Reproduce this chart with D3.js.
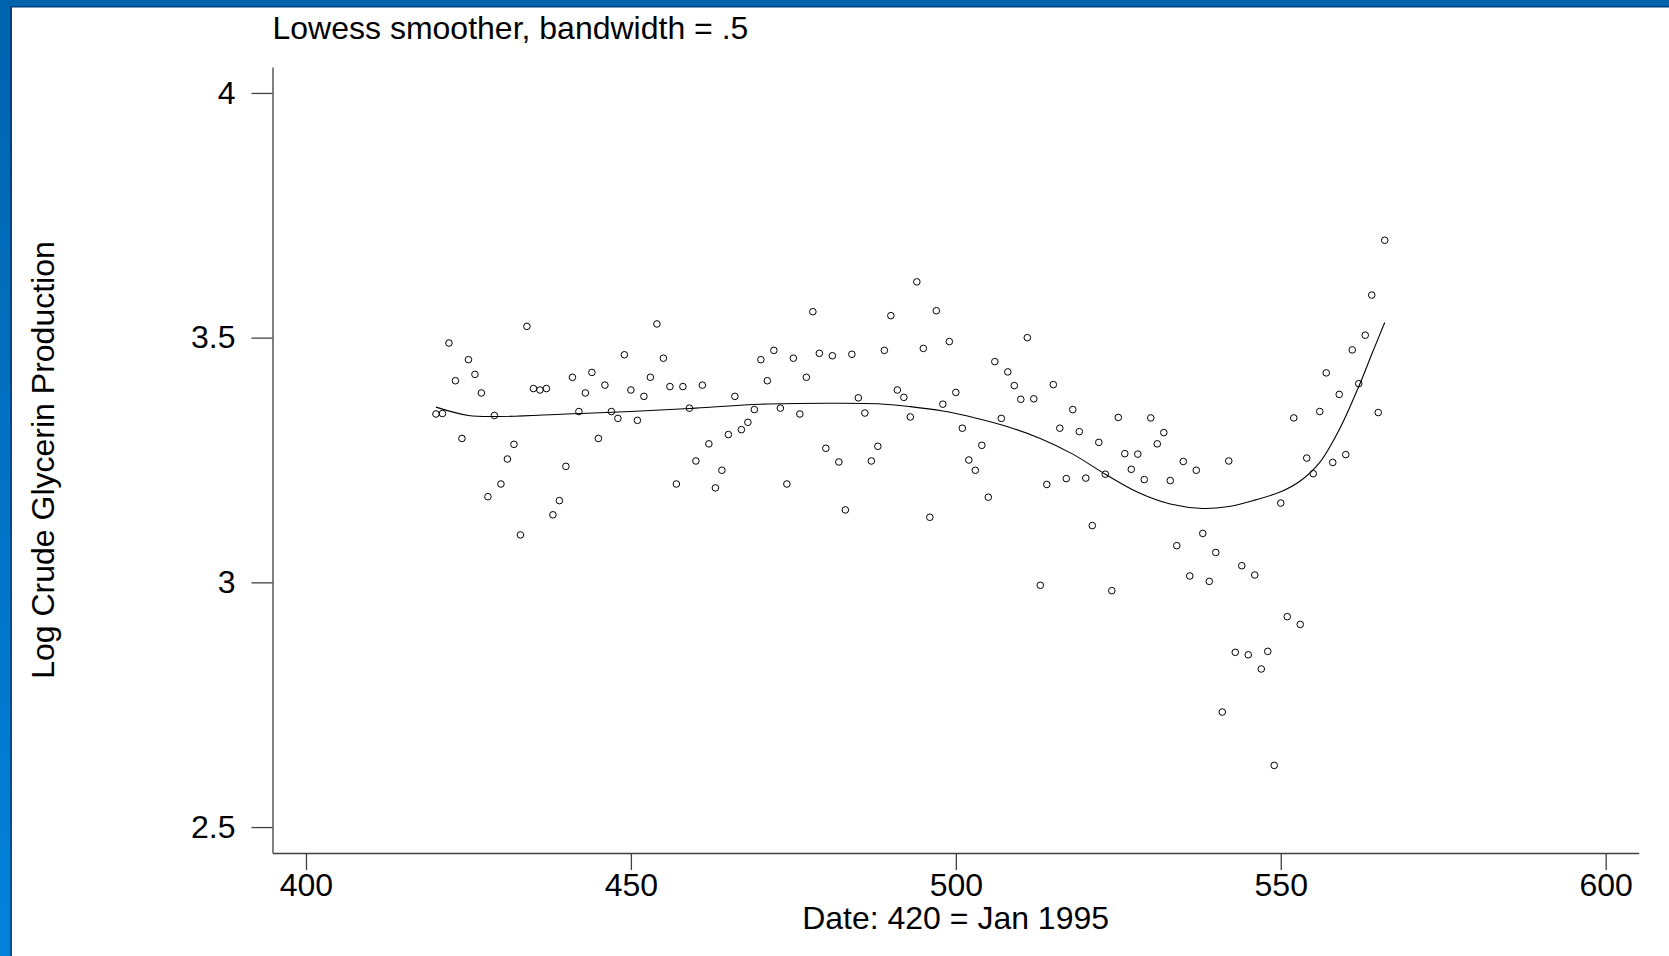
<!DOCTYPE html>
<html>
<head>
<meta charset="utf-8">
<script src="https://cdn.jsdelivr.net/npm/d3@7"></script>
<style>
  html, body { margin: 0; padding: 0; background: #fff; }
  svg { display: block; font-family: "Liberation Sans", Arial, Helvetica, sans-serif; }
</style>
</head>
<body>
<script>
// ---- data ----
const dates = d3.range(420, 567); // 420 = Jan 1995 ... 566
const logGlycerin = [
  3.344, 3.345, 3.489, 3.412, 3.294, 3.455, 3.425, 3.387, 3.175, 3.341,
  3.201, 3.252, 3.282, 3.097, 3.523, 3.396, 3.393, 3.396, 3.138, 3.167,
  3.237, 3.419, 3.349, 3.387, 3.429, 3.294, 3.403, 3.349, 3.335, 3.465,
  3.393, 3.331, 3.380, 3.419, 3.528, 3.458, 3.400, 3.201, 3.400, 3.356,
  3.248, 3.403, 3.283, 3.193, 3.229, 3.302, 3.380, 3.312, 3.327, 3.353,
  3.455, 3.412, 3.474, 3.356, 3.201, 3.458, 3.344, 3.419, 3.553, 3.468,
  3.274, 3.463, 3.246, 3.148, 3.466, 3.377, 3.346, 3.248, 3.278, 3.474,
  3.545, 3.393, 3.378, 3.338, 3.614, 3.478, 3.133, 3.555, 3.364, 3.492,
  3.388, 3.315, 3.250, 3.229, 3.280, 3.174, 3.451, 3.335, 3.430, 3.402,
  3.374, 3.500, 3.375, 2.994, 3.200, 3.404, 3.315, 3.212, 3.353, 3.308,
  3.213, 3.116, 3.286, 3.221, 2.983, 3.337, 3.263, 3.231, 3.262, 3.210,
  3.336, 3.283, 3.306, 3.208, 3.075, 3.247, 3.013, 3.229, 3.100, 3.002,
  3.061, 2.735, 3.248, 2.857, 3.034, 2.852, 3.015, 2.823, 2.859, 2.626,
  3.162, 2.930, 3.336, 2.914, 3.254, 3.222, 3.349, 3.428, 3.245, 3.384,
  3.261, 3.475, 3.406, 3.505, 3.587, 3.347, 3.699
];
// lowess smoother (bandwidth .5)
const smoothDates = [420, 425, 430, 440, 450, 460, 470, 480, 488, 493, 498, 503, 508,
  513, 518, 523, 528, 533, 538, 542, 546, 550, 553, 556, 559, 562, 564, 566];
const smoothValues = [3.358, 3.341, 3.339, 3.344, 3.349, 3.356, 3.364, 3.366, 3.365,
  3.359, 3.350, 3.336, 3.318, 3.294, 3.262, 3.221, 3.184, 3.160, 3.151, 3.155, 3.168,
  3.185, 3.207, 3.245, 3.312, 3.400, 3.466, 3.531];
const xTicks = [400, 450, 500, 550, 600];
const yTicks = [2.5, 3, 3.5, 4];
const yTickLabels = ["2.5", "3", "3.5", "4"];
const titleText = "Lowess smoother, bandwidth = .5";
const xTitle = "Date: 420 = Jan 1995";
const yTitle = "Log Crude Glycerin Production";

// ---- drawing ----
const W = 1669, H = 956;
const svg = d3.select("body").append("svg").attr("width", W).attr("height", H);

const defs = svg.append("defs");
const g1 = defs.append("linearGradient").attr("id", "leftGrad")
  .attr("x1", 0).attr("y1", 0).attr("x2", 0).attr("y2", 1);
g1.append("stop").attr("offset", "0%").attr("stop-color", "#0063ad");
g1.append("stop").attr("offset", "100%").attr("stop-color", "#0182da");
const g2 = defs.append("linearGradient").attr("id", "leftDark")
  .attr("x1", 0).attr("y1", 0).attr("x2", 0).attr("y2", 1);
g2.append("stop").attr("offset", "0%").attr("stop-color", "#003f7d");
g2.append("stop").attr("offset", "100%").attr("stop-color", "#004c98");

svg.append("rect").attr("width", W).attr("height", H).attr("fill", "#fff");
// frame
svg.append("rect").attr("x", 0).attr("y", 0).attr("width", W).attr("height", 7).attr("fill", "#0063ad");
svg.append("rect").attr("x", 10).attr("y", 6).attr("width", W - 10).attr("height", 1.5).attr("fill", "#003f7d");
svg.append("rect").attr("x", 0).attr("y", 0).attr("width", 10.5).attr("height", H).attr("fill", "url(#leftGrad)");
svg.append("rect").attr("x", 10).attr("y", 6).attr("width", 2).attr("height", H - 6).attr("fill", "url(#leftDark)");

const x = d3.scaleLinear().domain([394.85, 605.08]).range([272.5, 1638.7]);
const y = d3.scaleLinear().domain([2.447, 4.053]).range([853, 67]);

const fontSize = 32;
const axisColor = "#404040";

// y axis
const yAxis = d3.axisLeft(y).tickValues(yTicks)
  .tickFormat((d, i) => yTickLabels[i]).tickSize(21).tickPadding(16).tickSizeOuter(0);
const gy = svg.append("g").attr("transform", `translate(${x.range()[0]},0)`).call(yAxis);
gy.select(".domain").attr("stroke", axisColor).attr("stroke-width", 1.3);
gy.selectAll(".tick line").attr("stroke", axisColor).attr("stroke-width", 1.3);
gy.selectAll(".tick text").attr("fill", "#000").style("font-size", fontSize + "px")
  .style("font-family", '"Liberation Sans", Arial, sans-serif');

// x axis
const xAxis = d3.axisBottom(x).tickValues(xTicks).tickFormat(d3.format("d"))
  .tickSize(17).tickPadding(3).tickSizeOuter(0);
const gx = svg.append("g").attr("transform", `translate(0,${y.range()[0]})`).call(xAxis);
gx.select(".domain").attr("stroke", axisColor).attr("stroke-width", 1.3);
gx.selectAll(".tick line").attr("stroke", axisColor).attr("stroke-width", 1.3);
gx.selectAll(".tick text").attr("fill", "#000").style("font-size", fontSize + "px")
  .style("font-family", '"Liberation Sans", Arial, sans-serif');

// smoother line
const line = d3.line().x(d => x(d[0])).y(d => y(d[1])).curve(d3.curveCatmullRom.alpha(0.5));
svg.append("path")
  .datum(smoothDates.map((d, i) => [d, smoothValues[i]]))
  .attr("d", line).attr("fill", "none").attr("stroke", "#000").attr("stroke-width", 1.1);

// points
svg.append("g").selectAll("circle")
  .data(dates.map((d, i) => [d, logGlycerin[i]]))
  .join("circle")
  .attr("cx", d => x(d[0])).attr("cy", d => y(d[1])).attr("r", 3.3)
  .attr("fill", "none").attr("stroke", "#000").attr("stroke-width", 1);

// titles
svg.append("text").attr("x", 272.5).attr("y", 39).attr("font-size", fontSize)
  .attr("fill", "#000").text(titleText);
svg.append("text").attr("x", (x.range()[0] + x.range()[1]) / 2).attr("y", 929)
  .attr("text-anchor", "middle").attr("font-size", fontSize).attr("fill", "#000").text(xTitle);
svg.append("text").attr("transform", `translate(54,${(y.range()[0] + y.range()[1]) / 2}) rotate(-90)`)
  .attr("text-anchor", "middle").attr("font-size", fontSize).attr("fill", "#000").text(yTitle);
</script>
</body>
</html>
